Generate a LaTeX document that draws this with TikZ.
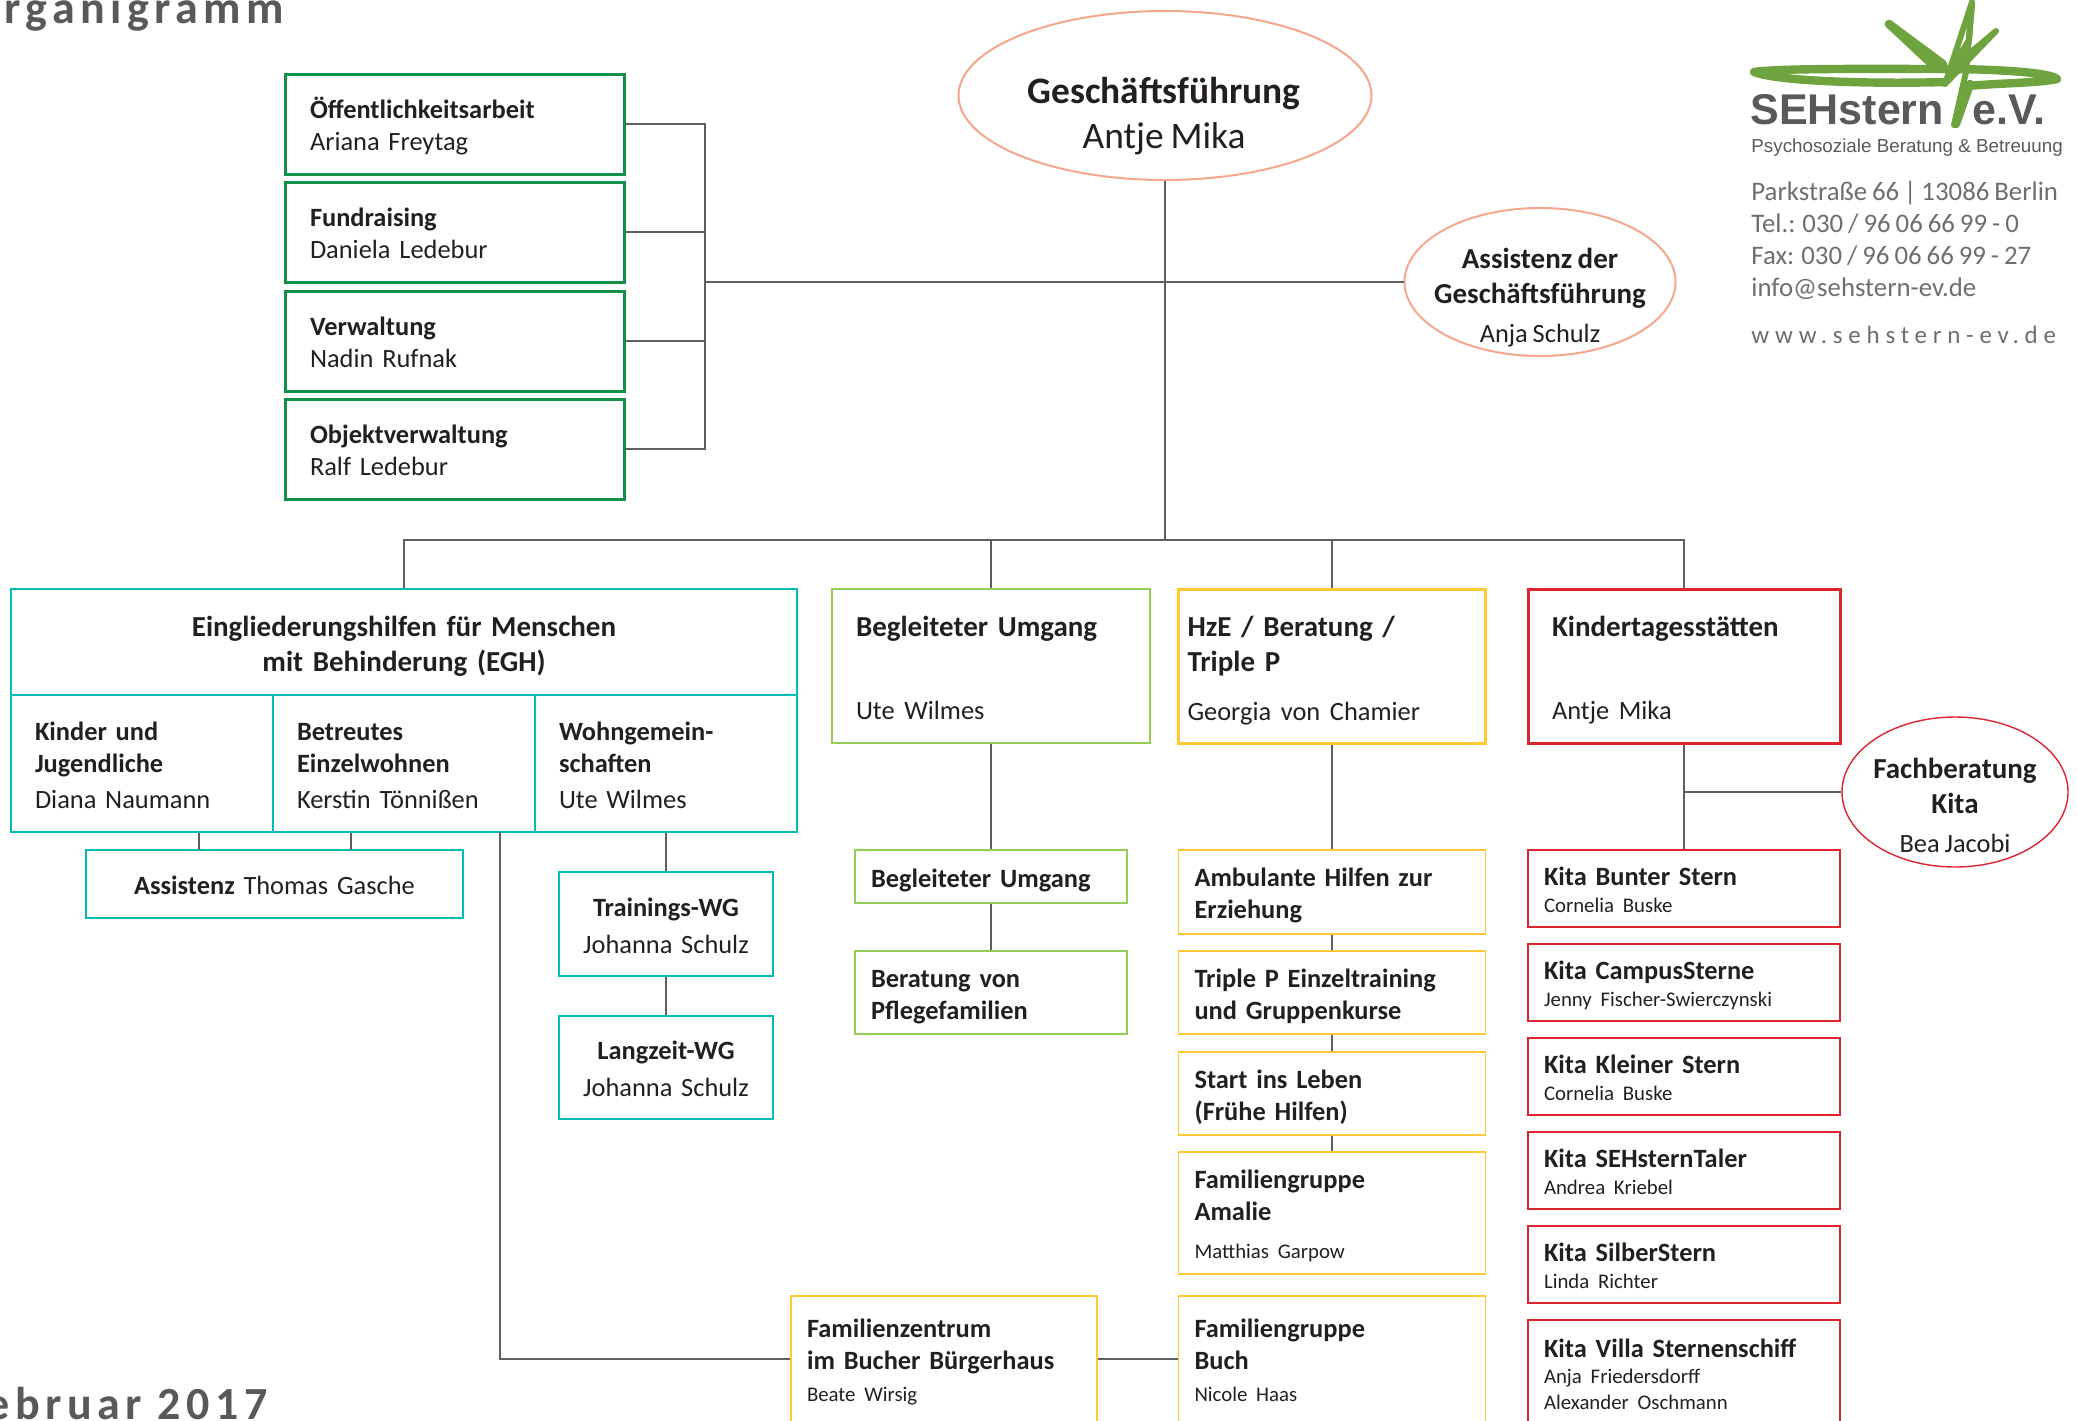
\documentclass[tikz,border=0pt]{standalone}
\usepackage{fontspec}
\setmainfont[WordSpace=0.82]{Carlito}
\newfontfamily\logofont{Liberation Sans}
\newfontfamily\titlefont[LetterSpace=12]{Carlito}
\newfontfamily\webfont[LetterSpace=23]{Carlito}
\usetikzlibrary{shapes.geometric}
\definecolor{txtdark}{HTML}{231F20}
\definecolor{txtgrey}{HTML}{6D6E70}
\definecolor{logogrey}{HTML}{58595B}
\definecolor{linegrey}{HTML}{5F5F5F}
\definecolor{logogreen}{HTML}{6FA33F}
\definecolor{orggreen}{HTML}{12904A}
\definecolor{orgteal}{HTML}{00BDB6}
\definecolor{orglime}{HTML}{95CC55}
\definecolor{orgyellow}{HTML}{FFC934}
\definecolor{orgred}{HTML}{DE2430}
\definecolor{orgsalmon}{HTML}{F5A68C}
\newcommand{\fsmain}{\fontsize{13.2}{16}\selectfont}
\newcommand{\fssmall}{\fontsize{10.4}{13}\selectfont}
\newcommand{\fsbig}{\fontsize{14.5}{17.5}\selectfont}
\newcommand{\fstitle}{\fontsize{23}{27}\selectfont}
\begin{document}
\begin{tikzpicture}[
    x=0.5pt, y=-0.5pt,
    boxsize/.style n args={3}{minimum width=#1*0.5pt, minimum height=#2*0.5pt, text width=(#1-2*#3)*0.5pt, inner xsep=#3*0.5pt},
    toprule/.style={execute at begin node={\rule{0pt}{#1}}},
    orgbox/.style={rectangle, draw, inner ysep=0pt, align=left, text=txtdark, font=\fsmain,
        toprule=14.6pt, execute at end node={\rule[-4pt]{0pt}{4pt}}},
    greenbox/.style={orgbox, draw=orggreen, line width=1.5pt, boxsize={339}{100}{25}},
    tealbox/.style={orgbox, draw=orgteal, line width=1pt},
    tealthin/.style={orgbox, draw=orgteal, line width=0.6pt},
    limehead/.style={orgbox, draw=orglime, line width=1.1pt, font=\fsbig, toprule=16pt},
    limebox/.style={orgbox, draw=orglime, line width=0.7pt},
    yellowhead/.style={orgbox, draw=orgyellow, line width=1.5pt, font=\fsbig, toprule=16pt},
    yellowbox/.style={orgbox, draw=orgyellow, line width=0.7pt, boxsize={307}{83}{16}},
    redhead/.style={orgbox, draw=orgred, line width=1.5pt, font=\fsbig, toprule=16pt},
    kitabox/.style={orgbox, draw=orgred, line width=0.7pt, boxsize={312}{77}{16}},
    salmonell/.style={ellipse, draw=orgsalmon, line width=1pt, inner sep=0pt},
    elltext/.style={inner sep=0pt, align=center, text=txtdark, font=\fsbig},
    conn/.style={draw=linegrey, line width=0.8pt}
]
\useasboundingbox (0,0) rectangle (2077,1420);
\clip (0,0) rectangle (2077,1420);

% Title and date
\node[anchor=base west, inner sep=0pt, text=logogrey, font=\titlefont\bfseries\fstitle] (title) at (4,23) {rganigramm};
\node[anchor=base west, inner sep=0pt, text=logogrey, font=\titlefont\bfseries\fstitle] (datum) at (-14,1419) {ebruar 2017};

% Logo star
\begin{scope}[draw=logogreen, line width=4.2pt, line cap=round, line join=round]
\draw (1945,82) .. controls (1880,84) and (1780,82) .. (1754,72) .. controls (1780,68) and (1880,69) .. (1945,69) .. controls (1990,69) and (2050,72) .. (2057,79) .. controls (2040,83) and (2000,83) .. (1968,86);
\draw (1889,24) -- (1943,64);
\draw (1889,24) -- (1936,68);
\draw (1970,84) -- (1956,124);
\end{scope}
\begin{scope}[draw=logogreen, line width=3pt, line cap=round, line join=round]
\draw (1962,90) -- (1954,125) -- (1966,72) -- (1972,4);
\draw (1945,84) -- (1972,2) -- (1969,40) -- (1952,68) -- (1996,31) -- (1945,84);
\end{scope}

% Logo text and address
\node[anchor=base west, inner sep=0pt, text=logogrey, font=\logofont\bfseries\fontsize{21.5}{24}\selectfont] (logoa) at (1750,124) {SEHstern};
\node[anchor=base west, inner sep=0pt, text=logogrey, font=\logofont\bfseries\fontsize{21.5}{24}\selectfont] (logob) at (1972,124) {e.V.};
\node[anchor=base west, inner sep=0pt, text=logogrey, font=\logofont\fontsize{9.4}{11}\selectfont] (logoc) at (1751,152) {Psychosoziale Beratung \& Betreuung};
\node[anchor=north west, inner sep=0pt, align=left, text=txtgrey, font=\fontsize{13.4}{16}\selectfont] (adresse) at (1751,181) {Parkstraße 66 | 13086 Berlin\\Tel.: 030 / 96 06 66 99 - 0\\Fax: 030 / 96 06 66 99 - 27\\info@sehstern-ev.de};
\node[anchor=base west, inner sep=0pt, text=txtgrey, font=\webfont\fontsize{12.5}{16}\selectfont] (web) at (1751,343) {www.sehstern-ev.de};

% Top level
\node[salmonell, minimum width=206.5pt, minimum height=84.5pt] (ceo) at (1165,95.5) {};
\node[elltext, font=\fontsize{18.7}{22.5}\selectfont] (ceot) at (1164,116) {\textbf{Geschäftsführung}\\Antje Mika};
\node[salmonell, minimum width=135.5pt, minimum height=74pt] (assi) at (1540,282) {};
\node[elltext] (assit) at (1540,298) {\textbf{Assistenz der}\\\textbf{Geschäftsführung}\\[2pt]{\fsmain Anja Schulz}};

% Staff boxes
\node[greenbox] (oeff) at (454.5,124) {\textbf{Öffentlichkeitsarbeit}\\Ariana Freytag};
\node[greenbox] (fund) at (454.5,232) {\textbf{Fundraising}\\Daniela Ledebur};
\node[greenbox] (verw) at (454.5,341) {\textbf{Verwaltung}\\Nadin Rufnak};
\node[greenbox] (objv) at (454.5,449) {\textbf{Objektverwaltung}\\Ralf Ledebur};

% EGH
\node[tealbox, boxsize={786}{106}{20}, align=center, font=\fsbig, toprule=16pt] (egh) at (404,642) {\textbf{Eingliederungshilfen für Menschen}\\\textbf{mit Behinderung (EGH)}};
\node[tealbox, boxsize={262}{137}{24}] (kinder) at (142,763.5) {\textbf{Kinder und}\\\textbf{Jugendliche}\\[2pt]Diana Naumann};
\node[tealbox, boxsize={262}{137}{24}] (betreut) at (404,763.5) {\textbf{Betreutes}\\\textbf{Einzelwohnen}\\[2pt]Kerstin Tönnißen};
\node[tealbox, boxsize={262}{137}{24}] (wohn) at (666,763.5) {\textbf{Wohngemein-}\\\textbf{schaften}\\[2pt]Ute Wilmes};
\node[tealthin, boxsize={377}{68}{20}, align=center] (assg) at (274.5,884) {\textbf{Assistenz} Thomas Gasche};
\node[tealthin, boxsize={214}{104}{10}, align=center] (train) at (666,924) {\textbf{Trainings-WG}\\[2.5pt]Johanna Schulz};
\node[tealthin, boxsize={214}{103}{10}, align=center] (lang) at (666,1067.5) {\textbf{Langzeit-WG}\\[2.5pt]Johanna Schulz};

% Begleiteter Umgang
\node[limehead, boxsize={318}{154}{24}] (begl) at (991,666) {\textbf{Begleiteter Umgang}\\[24pt]{\fsmain Ute Wilmes}};
\node[limebox, boxsize={272}{53}{16}] (beglu) at (991,876.5) {\textbf{Begleiteter Umgang}};
\node[limebox, boxsize={272}{83}{16}] (pfleg) at (991,992.5) {\textbf{Beratung von}\\\textbf{Pflegefamilien}};

% HzE
\node[yellowhead, boxsize={307}{154}{9}] (hze) at (1332,666) {\textbf{HzE / Beratung /}\\\textbf{Triple P}\\[7pt]{\fsmain Georgia von Chamier}};
\node[yellowbox, minimum height=42pt, toprule=13.3pt] (ambu) at (1332,892) {\textbf{Ambulante Hilfen zur}\\\textbf{Erziehung}};
\node[yellowbox] (trip) at (1332,992.5) {\textbf{Triple P Einzeltraining}\\\textbf{und Gruppenkurse}};
\node[yellowbox, toprule=13.3pt] (stle) at (1332,1093.5) {\textbf{Start ins Leben}\\\textbf{(Frühe Hilfen)}};
\node[yellowbox, minimum height=61pt, toprule=13.3pt] (amal) at (1332,1213) {\textbf{Familiengruppe}\\\textbf{Amalie}\\[3pt]{\fssmall Matthias Garpow}};
\node[yellowbox, minimum height=63pt] (buch) at (1332,1359) {\textbf{Familiengruppe}\\\textbf{Buch}\\[0pt]{\fssmall Nicole Haas}};
\node[yellowbox, boxsize={306}{126}{16}] (famz) at (944,1359) {\textbf{Familienzentrum}\\\textbf{im Bucher Bürgerhaus}\\[0pt]{\fssmall Beate Wirsig}};

% Kita
\node[redhead, boxsize={312}{154}{24}] (kita) at (1684,666) {\textbf{Kindertagesstätten}\\[24pt]{\fsmain Antje Mika}};
\node[salmonell, draw=orgred, line width=0.7pt, minimum width=113pt, minimum height=75pt] (fach) at (1955,792) {};
\node[elltext] (facht) at (1955,805) {\textbf{Fachberatung}\\\textbf{Kita}\\[2pt]{\fsmain Bea Jacobi}};
\node[kitabox] (kbunt) at (1684,888.5) {\textbf{Kita Bunter Stern}\\[-2.6pt]{\fssmall Cornelia Buske}};
\node[kitabox] (kcamp) at (1684,982.5) {\textbf{Kita CampusSterne}\\[-2.6pt]{\fssmall Jenny Fischer-Swierczynski}};
\node[kitabox] (kklei) at (1684,1076.5) {\textbf{Kita Kleiner Stern}\\[-2.6pt]{\fssmall Cornelia Buske}};
\node[kitabox] (ktale) at (1684,1170.5) {\textbf{Kita SEHsternTaler}\\[-2.6pt]{\fssmall Andrea Kriebel}};
\node[kitabox] (ksilb) at (1684,1264.5) {\textbf{Kita SilberStern}\\[-2.6pt]{\fssmall Linda Richter}};
\node[kitabox, minimum height=53pt, toprule=12pt] (kvill) at (1684,1373) {\textbf{Kita Villa Sternenschiff}\\[-3pt]{\fssmall Anja Friedersdorff}\\[-3pt]{\fssmall Alexander Oschmann}};

% Connector points
\coordinate (brk) at (705,282);
\coordinate (bus) at (1165,540);
\coordinate (assl) at (199,850);
\coordinate (assr) at (351,850);
\coordinate (fzl) at (500,832);
\coordinate (fachj) at (1684,792);

% Connectors
\draw[conn] (oeff.east) -| (brk) |- (objv.east);
\draw[conn] (fund.east) -| (brk);
\draw[conn] (verw.east) -| (brk);
\draw[conn] (brk) -- (assi.west);
\draw[conn] (ceo.south) -- (bus);
\draw[conn] (egh.north) |- (bus) -| (kita.north);
\draw[conn] (begl.north) -- (begl.north |- bus);
\draw[conn] (hze.north) -- (hze.north |- bus);
\draw[conn] (assl |- kinder.south) -- (assl);
\draw[conn] (assr |- betreut.south) -- (assr);
\draw[conn] (fzl) |- (famz.west);
\draw[conn] (famz.east) -- (buch.west);
\draw[conn] (wohn.south) -- (train.north);
\draw[conn] (train.south) -- (lang.north);
\draw[conn] (begl.south) -- (beglu.north);
\draw[conn] (beglu.south) -- (pfleg.north);
\draw[conn] (hze.south) -- (ambu.north);
\draw[conn] (ambu.south) -- (trip.north);
\draw[conn] (trip.south) -- (stle.north);
\draw[conn] (stle.south) -- (amal.north);
\draw[conn] (kita.south) -- (kbunt.north);
\draw[conn] (fachj) -- (fach.west);

\end{tikzpicture}
\end{document}
